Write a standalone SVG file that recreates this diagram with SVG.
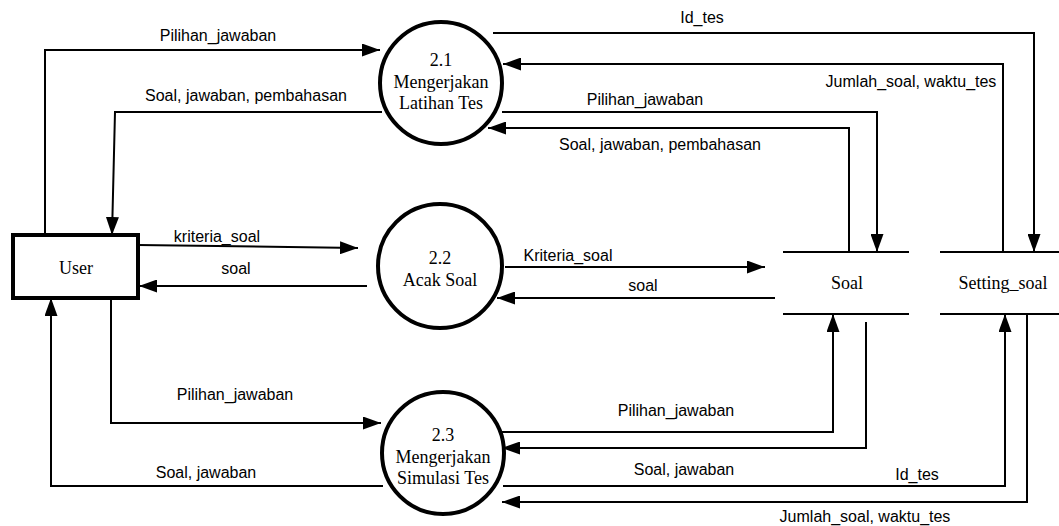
<svg xmlns="http://www.w3.org/2000/svg" width="1059" height="526" viewBox="0 0 1059 526">
  <style>
    .bg { fill: #ffffff; }
    .proc { fill: #ffffff; stroke: #000000; stroke-width: 4; }
    .entity { fill: #ffffff; stroke: #000000; stroke-width: 4; }
    .store { stroke: #000000; stroke-width: 2; fill: none; }
    .flow { fill: none; stroke: #000000; stroke-width: 2; }
    .arrow { marker-end: url(#head); }
    .ntext { font-family: "Liberation Serif", "Times New Roman", serif; font-size: 18px; fill: #000000; text-anchor: middle; }
    .ftext { font-family: "Liberation Sans", Arial, sans-serif; font-size: 16px; fill: #000000; text-anchor: middle; }
  </style>
  <defs>
    <marker id="head" viewBox="0 0 18 13" refX="18" refY="6.5" markerWidth="18" markerHeight="13" markerUnits="userSpaceOnUse" orient="auto">
      <path d="M0,0 L18,6.5 L0,13 Z" fill="#000000"/>
    </marker>
  </defs>

  <rect class="bg" x="0" y="0" width="1059" height="526"/>

  <!-- data flows -->
  <g id="connectors">
    <!-- User <-> 2.1 -->
    <path class="flow arrow" d="M45,235 V50 H380"/>
    <path class="flow arrow" d="M382,112 H115 L112,235"/>
    <!-- 2.1 <-> Setting_soal -->
    <path class="flow arrow" d="M493,33 H1034 V252"/>
    <path class="flow arrow" d="M1003,252 V64 H503"/>
    <!-- 2.1 <-> Soal -->
    <path class="flow arrow" d="M502,112 H877 V252"/>
    <path class="flow arrow" d="M849,252 V128 H488"/>
    <!-- User <-> 2.2 -->
    <path class="flow arrow" d="M138,245 L358,248"/>
    <path class="flow arrow" d="M367,286 H139"/>
    <!-- 2.2 <-> Soal -->
    <path class="flow arrow" d="M505,267 H765"/>
    <path class="flow arrow" d="M775,298 H497"/>
    <!-- User <-> 2.3 -->
    <path class="flow arrow" d="M111,298 V423 H381"/>
    <path class="flow arrow" d="M383,486 H51 V298"/>
    <!-- 2.3 <-> Soal -->
    <path class="flow arrow" d="M502,432 H833 V314"/>
    <path class="flow arrow" d="M866,322 V448 H502"/>
    <!-- 2.3 <-> Setting_soal -->
    <path class="flow arrow" d="M503,486 H1005 V314"/>
    <path class="flow arrow" d="M1027,314 V502 H502"/>

    <!-- flow labels -->
    <text class="ftext" x="218" y="41">Pilihan_jawaban</text>
    <text class="ftext" x="246" y="101">Soal, jawaban, pembahasan</text>
    <text class="ftext" x="702" y="23">Id_tes</text>
    <text class="ftext" x="911" y="87">Jumlah_soal, waktu_tes</text>
    <text class="ftext" x="645" y="105">Pilihan_jawaban</text>
    <text class="ftext" x="660" y="150">Soal, jawaban, pembahasan</text>
    <text class="ftext" x="217" y="242">kriteria_soal</text>
    <text class="ftext" x="236" y="274">soal</text>
    <text class="ftext" x="568" y="261">Kriteria_soal</text>
    <text class="ftext" x="643" y="291">soal</text>
    <text class="ftext" x="235" y="400">Pilihan_jawaban</text>
    <text class="ftext" x="206" y="478">Soal, jawaban</text>
    <text class="ftext" x="676" y="416">Pilihan_jawaban</text>
    <text class="ftext" x="684" y="475">Soal, jawaban</text>
    <text class="ftext" x="917" y="480">Id_tes</text>
    <text class="ftext" x="865" y="522">Jumlah_soal, waktu_tes</text>
  </g>

  <!-- external entity -->
  <g id="user">
    <rect class="entity" x="13" y="235" width="125" height="63"/>
    <text class="ntext" x="76" y="274">User</text>
  </g>

  <!-- processes -->
  <g id="proc-2-1">
    <circle class="proc" cx="441" cy="83" r="61"/>
    <text class="ntext" x="441" y="66">2.1</text>
    <text class="ntext" x="441" y="88">Mengerjakan</text>
    <text class="ntext" x="441" y="109">Latihan Tes</text>
  </g>
  <g id="proc-2-2">
    <circle class="proc" cx="440" cy="266" r="62"/>
    <text class="ntext" x="440" y="264">2.2</text>
    <text class="ntext" x="440" y="286">Acak Soal</text>
  </g>
  <g id="proc-2-3">
    <circle class="proc" cx="443" cy="453" r="61"/>
    <text class="ntext" x="443" y="441">2.3</text>
    <text class="ntext" x="443" y="463">Mengerjakan</text>
    <text class="ntext" x="443" y="484">Simulasi Tes</text>
  </g>

  <!-- data stores -->
  <g id="store-soal">
    <line class="store" x1="783" y1="252" x2="909" y2="252"/>
    <line class="store" x1="783" y1="314" x2="909" y2="314"/>
    <text class="ntext" x="847" y="289">Soal</text>
  </g>
  <g id="store-setting-soal">
    <line class="store" x1="940" y1="252" x2="1059" y2="252"/>
    <line class="store" x1="940" y1="314" x2="1059" y2="314"/>
    <text class="ntext" x="1003" y="289">Setting_soal</text>
  </g>
</svg>
